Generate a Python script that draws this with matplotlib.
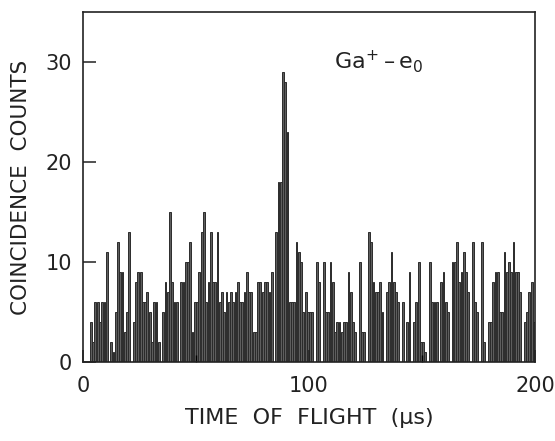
import numpy as np
import matplotlib
matplotlib.use('Agg')
import matplotlib.pyplot as plt

# counts per 1 us time-of-flight bin, bins 0..199
counts = [
    0, 0, 0, 4, 2, 6, 6, 4, 6, 6,
    11, 0, 2, 1, 5, 12, 9, 9, 3, 5,
    13, 0, 4, 8, 9, 9, 6, 6, 7, 5,
    2, 6, 6, 2, 0, 5, 8, 7, 15, 8,
    6, 6, 0, 8, 8, 10, 10, 12, 3, 6,
    6, 9, 13, 15, 6, 8, 13, 8, 8, 13,
    6, 7, 5, 7, 6, 7, 6, 7, 8, 6,
    6, 7, 9, 7, 7, 3, 3, 8, 8, 7,
    8, 8, 7, 9, 0, 13, 18, 18, 29, 28,
    23, 6, 6, 6, 12, 11, 10, 5, 7, 5,
    5, 5, 0, 10, 8, 0, 10, 5, 5, 10,
    8, 3, 4, 4, 3, 4, 4, 9, 7, 4,
    3, 0, 10, 3, 3, 0, 13, 12, 8, 7,
    7, 8, 5, 0, 7, 8, 11, 8, 7, 6,
    0, 6, 0, 4, 9, 0, 4, 6, 10, 2,
    2, 1, 0, 10, 6, 6, 6, 0, 8, 9,
    6, 5, 0, 10, 10, 12, 8, 9, 11, 9,
    7, 0, 12, 6, 5, 0, 12, 2, 0, 4,
    4, 8, 9, 9, 5, 5, 11, 9, 10, 9,
    12, 9, 9, 7, 0, 4, 5, 7, 8, 4,
]
tof = np.arange(len(counts)) + 0.5

plt.rcParams['font.family'] = 'DejaVu Sans'
fig = plt.figure(figsize=(5.55, 4.41), dpi=100)
ax = fig.add_axes([0.1495, 0.179, 0.8145, 0.794])

ax.bar(tof, counts, width=0.8, facecolor='#5e5e5e', edgecolor='#2b2b2b', linewidth=0.7)

ax.set_xlim(0, 200)
ax.set_ylim(0, 35)
ax.set_xticks([0, 100, 200])
ax.set_xticks([50, 150], minor=True)
ax.set_yticks([0, 10, 20, 30])
ax.tick_params(direction='in', length=9, width=1.1, labelsize=15, colors='#222222', pad=10)
ax.tick_params(axis='y', pad=8)
ax.tick_params(which='minor', direction='in', length=5, width=1.0)
for s in ax.spines.values():
    s.set_linewidth(1.2)
    s.set_color('#222222')

ax.set_xlabel('TIME  OF  FLIGHT  (\u00b5s)', fontsize=16, color='#222222', labelpad=9)
ax.set_ylabel('COINCIDENCE  COUNTS', fontsize=15.5, color='#222222', labelpad=10)
ax.text(111, 30, 'Ga$^{+}$\u2009\u2013\u2009e$_0$', fontsize=16, color='#222222', va='center')

fig.savefig('out.png', dpi=100)
